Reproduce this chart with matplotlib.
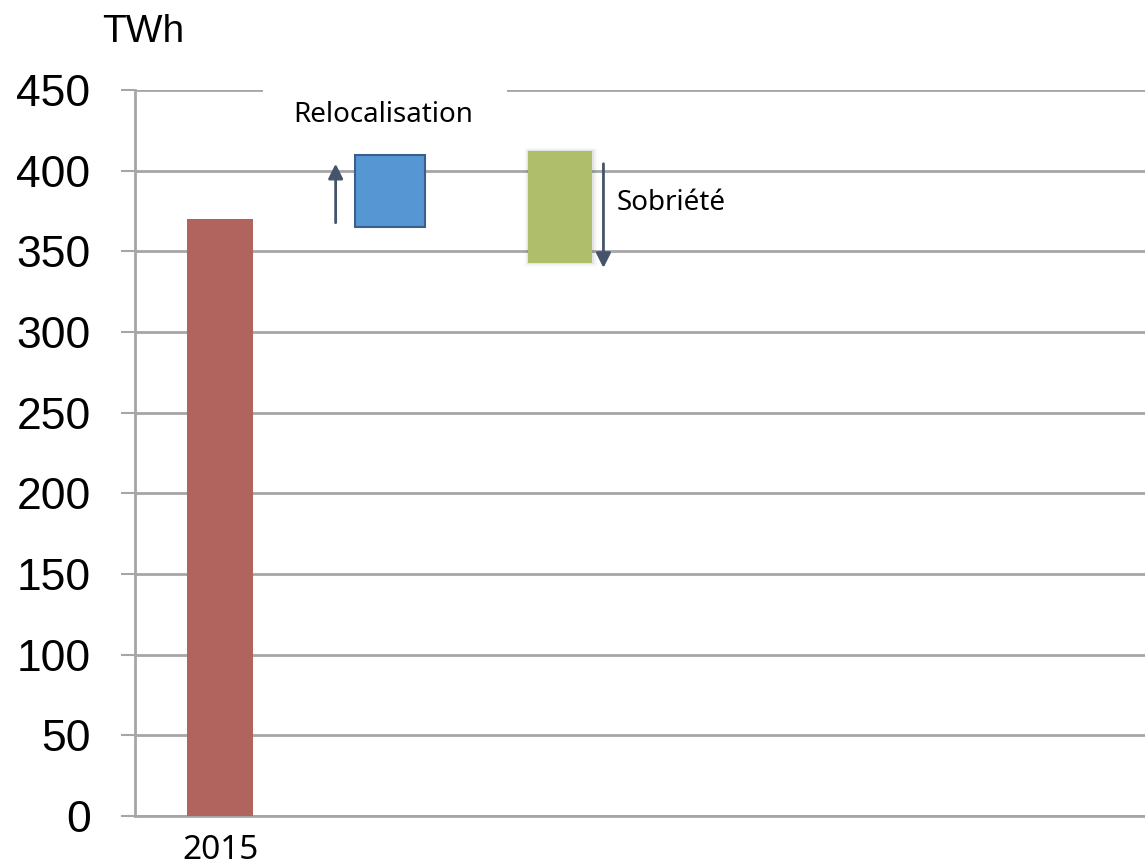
import numpy as np
import matplotlib
matplotlib.use('Agg')
import matplotlib.pyplot as plt
from matplotlib.patches import Rectangle

# consommation d'electricite (TWh)
categories = ['2015', '', '', '', '', '']
conso_2015 = 370
reloc = (365, 410)      # bas, haut de la marche relocalisation
sobriete = (343, 412)   # bas, haut de la marche sobriete
yticks = np.arange(0, 451, 50)

rouge = '#b1645e'
bleu = '#5596d3'
vert = '#aebe6a'
fleche = '#44546a'
gris = '#a6a6a6'

fig = plt.figure(figsize=(11.45, 8.68), dpi=100)
ax = fig.add_axes([135/1145, 1 - 816/868, 1 - 135/1145, (816 - 90)/868])

x = np.arange(len(categories))
ax.bar(x[0], conso_2015, width=0.39, color=rouge, zorder=3)
ax.bar(x[1], reloc[1] - reloc[0], bottom=reloc[0], width=0.41, color=bleu,
       edgecolor='#3b5f8c', linewidth=1.5, zorder=3)
# ombre douce autour de la marche verte
for k, a in enumerate([0.05, 0.035, 0.02]):
    d = 0.008 * (k + 1)
    ax.bar(x[2] + 0.004, sobriete[1] - sobriete[0] + d*200, bottom=sobriete[0] - d*110,
           width=0.38 + 2*d, color='black', alpha=a, linewidth=0, zorder=2.5)
ax.bar(x[2], sobriete[1] - sobriete[0], bottom=sobriete[0], width=0.38, color=vert, zorder=3)

ax.annotate('', xy=(x[1] - 0.32, 406), xytext=(x[1] - 0.32, 366),
            arrowprops=dict(arrowstyle='-|>', color=fleche, lw=2, mutation_scale=22))
ax.annotate('', xy=(x[2] + 0.255, 338), xytext=(x[2] + 0.255, 406),
            arrowprops=dict(arrowstyle='-|>', color=fleche, lw=2, mutation_scale=22))

# cache la ligne du haut derriere l'etiquette
ax.add_patch(Rectangle((0.25, 428), 1.44, 26, facecolor='white', edgecolor='none',
                       zorder=2, clip_on=False))
ax.text(x[1] - 0.04, 434.5, 'Relocalisation', ha='center', va='center',
        fontsize=20, family='Noto Sans', zorder=4)
ax.text(x[2] + 0.33, 380, 'Sobriété', ha='left', va='center',
        fontsize=20, family='Noto Sans', zorder=4)

ax.set_xlim(-0.5, 5.44)
ax.set_ylim(0, 450)
ax.set_yticks(yticks)
ax.set_yticklabels([str(v) for v in yticks], family='Liberation Sans', fontsize=32)
ax.set_xticks(x)
ax.set_xticklabels(categories, family='Noto Sans', fontsize=24)
ax.tick_params(axis='y', length=10, width=1.5, color=gris, pad=22)
ax.tick_params(axis='x', length=0, pad=13)
ax.yaxis.grid(True, color=gris, linewidth=2, zorder=0)
ax.set_axisbelow(True)
for s in ['top', 'right']:
    ax.spines[s].set_visible(False)
for s in ['left', 'bottom']:
    ax.spines[s].set_color(gris)
    ax.spines[s].set_linewidth(2)

fig.text(102/1145, 1 - 32/868, 'TWh', family='Liberation Sans', fontsize=28,
         ha='left', va='center')

fig.savefig('out.png', dpi=100)
